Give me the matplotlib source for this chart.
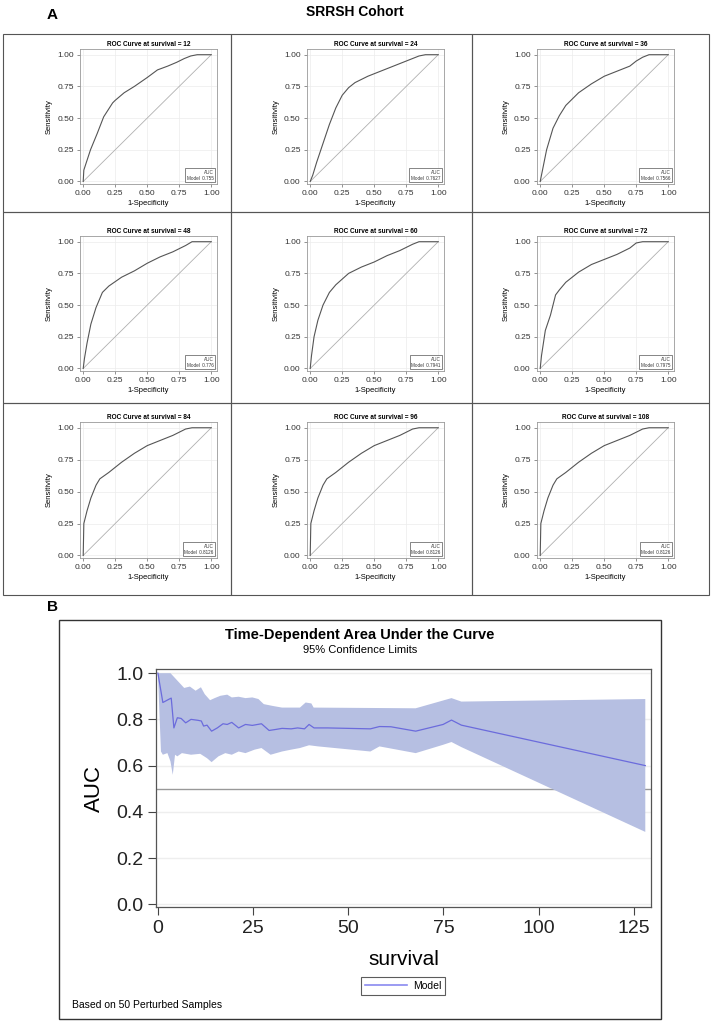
import matplotlib
matplotlib.use("Agg")
import matplotlib.pyplot as plt
from matplotlib.patches import Rectangle
from matplotlib.lines import Line2D
from matplotlib import font_manager
import numpy as np

plt.rcParams['font.family'] = ['Liberation Sans', 'DejaVu Sans']
_names = {f.name for f in font_manager.fontManager.ttflist}
NARROW = ['Liberation Sans Narrow', 'Liberation Sans', 'DejaVu Sans'] if 'Liberation Sans Narrow' in _names \
    else ['Liberation Sans', 'DejaVu Sans']

# ---------------- data ----------------
roc_times = [12, 24, 36, 48, 60, 72, 84, 96, 108]
roc_auc = ["0.755", "0.7627", "0.7566", "0.776", "0.7941", "0.7975", "0.8126", "0.8126", "0.8126"]

fpr_12 = [0, 0.005, 0.057, 0.11, 0.16, 0.23, 0.25, 0.32, 0.40, 0.50, 0.58, 0.66, 0.73, 0.79, 0.84, 0.89, 1.0]
tpr_12 = [0, 0.09, 0.25, 0.38, 0.51, 0.62, 0.64, 0.70, 0.75, 0.82, 0.88, 0.91, 0.94, 0.97, 0.99, 1.0, 1.0]
fpr_24 = [0, 0.02, 0.05, 0.10, 0.15, 0.20, 0.25, 0.30, 0.35, 0.45, 0.55, 0.65, 0.75, 0.85, 0.90, 1.0]
tpr_24 = [0, 0.05, 0.15, 0.30, 0.45, 0.58, 0.68, 0.74, 0.78, 0.83, 0.87, 0.91, 0.95, 0.99, 1.0, 1.0]
fpr_36 = [0, 0.02, 0.05, 0.10, 0.15, 0.20, 0.30, 0.40, 0.50, 0.60, 0.70, 0.75, 0.80, 0.85, 1.0]
tpr_36 = [0, 0.10, 0.25, 0.42, 0.52, 0.60, 0.70, 0.77, 0.83, 0.87, 0.91, 0.95, 0.98, 1.0, 1.0]
fpr_48 = [0, 0.01, 0.03, 0.06, 0.10, 0.15, 0.20, 0.30, 0.40, 0.50, 0.60, 0.70, 0.80, 0.85, 1.0]
tpr_48 = [0, 0.08, 0.20, 0.35, 0.48, 0.60, 0.65, 0.72, 0.77, 0.83, 0.88, 0.92, 0.97, 1.0, 1.0]
fpr_60 = [0, 0.01, 0.03, 0.06, 0.10, 0.15, 0.20, 0.30, 0.40, 0.50, 0.60, 0.70, 0.80, 0.85, 1.0]
tpr_60 = [0, 0.10, 0.25, 0.38, 0.50, 0.60, 0.66, 0.75, 0.80, 0.84, 0.89, 0.93, 0.98, 1.0, 1.0]
fpr_72 = [0, 0.01, 0.04, 0.08, 0.12, 0.15, 0.20, 0.30, 0.40, 0.50, 0.60, 0.70, 0.75, 0.80, 1.0]
tpr_72 = [0, 0.10, 0.30, 0.42, 0.58, 0.62, 0.68, 0.76, 0.82, 0.86, 0.90, 0.95, 0.99, 1.0, 1.0]
fpr_84 = [0, 0.005, 0.03, 0.06, 0.10, 0.13, 0.20, 0.30, 0.40, 0.50, 0.60, 0.70, 0.80, 0.85, 1.0]
tpr_84 = [0, 0.25, 0.35, 0.45, 0.55, 0.60, 0.65, 0.73, 0.80, 0.86, 0.90, 0.94, 0.99, 1.0, 1.0]
fpr_96 = fpr_84
tpr_96 = tpr_84
fpr_108 = fpr_84
tpr_108 = tpr_84

roc_fpr = [fpr_12, fpr_24, fpr_36, fpr_48, fpr_60, fpr_72, fpr_84, fpr_96, fpr_108]
roc_tpr = [tpr_12, tpr_24, tpr_36, tpr_48, tpr_60, tpr_72, tpr_84, tpr_96, tpr_108]

# Time-dependent AUC
auc_t = [0, 1.3, 3.0, 3.5, 4.2, 5.1, 6.1, 7.3, 8.7, 10.5, 11.4, 12.0, 12.9, 14.1, 15.6, 17.1, 18.2,
         19.4, 21.2, 23.0, 24.8, 27.2, 29.2, 30.8, 32.6, 35.0, 36.7, 38.5, 39.7, 41.0, 44.5, 55.8,
         58.2, 61.2, 67.7, 74.9, 77.1, 79.7, 128.0]
auc_v = [1.0, 0.873, 0.888, 0.892, 0.763, 0.807, 0.804, 0.785, 0.80, 0.796, 0.793, 0.771, 0.775,
         0.749, 0.763, 0.781, 0.778, 0.787, 0.763, 0.778, 0.774, 0.781, 0.752, 0.756, 0.761, 0.759,
         0.763, 0.759, 0.778, 0.763, 0.763, 0.759, 0.769, 0.768, 0.749, 0.778, 0.797, 0.775, 0.60]
upper_t = [0, 3.3, 5.1, 6.9, 8.4, 9.9, 11.3, 12.3, 13.7, 14.9, 16.4, 18.2, 19.4, 21.2, 23.0, 24.8,
           26.4, 27.8, 30.2, 32.6, 35.0, 37.3, 38.8, 40.3, 40.9, 67.7, 77.1, 79.7, 128.0]
upper_v = [1.0, 1.0, 0.968, 0.936, 0.942, 0.924, 0.939, 0.909, 0.883, 0.892, 0.902, 0.907, 0.895,
           0.898, 0.892, 0.895, 0.888, 0.866, 0.858, 0.851, 0.851, 0.851, 0.873, 0.869, 0.851, 0.848,
           0.892, 0.877, 0.888]
lower_t = [0, 0.8, 1.3, 2.5, 3.3, 3.9, 4.5, 5.1, 6.3, 8.7, 11.1, 12.9, 14.1, 15.9, 17.7, 19.4, 21.2,
           23.0, 25.4, 27.2, 29.6, 32.6, 35.0, 37.3, 39.7, 42.1, 55.8, 58.2, 67.7, 74.9, 77.1, 79.7, 128.0]
lower_v = [1.0, 0.661, 0.647, 0.654, 0.618, 0.56, 0.647, 0.64, 0.654, 0.647, 0.651, 0.632, 0.615,
           0.64, 0.654, 0.647, 0.661, 0.654, 0.669, 0.676, 0.647, 0.661, 0.669, 0.676, 0.688, 0.683,
           0.661, 0.683, 0.654, 0.69, 0.702, 0.68, 0.313]

# ---------------- figure ----------------
W, H = 711, 1022
fig = plt.figure(figsize=(W / 100, H / 100), dpi=100)


def fbox(x0, y0, x1, y1):
    """pixel box (top-left origin) -> figure fraction rect"""
    return [x0 / W, 1 - y1 / H, (x1 - x0) / W, (y1 - y0) / H]


def frame(x0, y0, x1, y1, color='#444444', lw=0.8):
    r = Rectangle((x0 / W, 1 - y1 / H), (x1 - x0) / W, (y1 - y0) / H,
                  transform=fig.transFigure, fill=False, ec=color, lw=lw)
    fig.patches.append(r)


fig.text(52 / W, 1 - 15 / H, "A", fontsize=11, fontweight='bold', ha='center', va='center')
fig.text(355 / W, 1 - 12 / H, "SRRSH Cohort", fontsize=10, fontweight='bold', ha='center', va='center')

row_boxes = [(34, 212), (212, 403), (403, 595)]
col_boxes = [(3, 231), (231, 472), (472, 709)]
row_axes = [(49, 184), (236, 371), (422, 558)]
col_axes = [(80, 217), (307, 444), (537, 674)]

for i in range(9):
    r, c = divmod(i, 3)
    frame(col_boxes[c][0], row_boxes[r][0], col_boxes[c][1], row_boxes[r][1], color='#555555', lw=0.8)
    ax = fig.add_axes(fbox(col_axes[c][0], row_axes[r][0], col_axes[c][1], row_axes[r][1]))
    ax.plot([0, 1], [0, 1], color='#b0b0b0', lw=0.6, zorder=2)
    ax.plot(roc_fpr[i], roc_tpr[i], color='#555555', lw=0.8, zorder=3)
    ax.set_xlim(-0.025, 1.045)
    ax.set_ylim(-0.02, 1.045)
    ticks = [0, 0.25, 0.5, 0.75, 1.0]
    ax.set_xticks(ticks)
    ax.set_yticks(ticks)
    ax.set_xticklabels(["0.00", "0.25", "0.50", "0.75", "1.00"])
    ax.set_yticklabels(["0.00", "0.25", "0.50", "0.75", "1.00"])
    ax.tick_params(labelsize=6, length=2.5, width=0.5, color='#666666', labelcolor='#333333', pad=2)
    ax.grid(True, color='#ececec', lw=0.5)
    ax.set_axisbelow(True)
    for s in ax.spines.values():
        s.set_color('#999999')
        s.set_linewidth(0.6)
    ax.set_title(f"ROC Curve at survival = {roc_times[i]}", fontsize=4.7, fontweight='bold', pad=2.5)
    ax.set_xlabel("1-Specificity", fontsize=5.5, labelpad=2)
    ax.set_ylabel("Sensitivity", fontsize=5.5, labelpad=3)
    ax.text(0.975, 0.025, f"AUC\nModel  {roc_auc[i]}", transform=ax.transAxes, ha='right', va='bottom',
            fontsize=3.3, multialignment='right', color='#333333',
            bbox=dict(boxstyle='square,pad=0.35', fc='white', ec='#555555', lw=0.5), zorder=5)

# ---------------- panel B ----------------
fig.text(52 / W, 1 - 607 / H, "B", fontsize=11, fontweight='bold', ha='center', va='center')
frame(59, 620, 661, 1019, color='#333333', lw=1.0)

axb = fig.add_axes(fbox(156, 669, 651, 907))
axb.fill(upper_t + lower_t[::-1], upper_v + lower_v[::-1], color='#b6bfe2', lw=0, zorder=2)
axb.plot(auc_t, auc_v, color='#6b6bdc', lw=0.9, zorder=3)
axb.axhline(0.5, color='#999999', lw=1.0, zorder=1)
axb.set_xlim(-0.5, 129.5)
axb.set_ylim(-0.012, 1.018)
axb.set_xticks([0, 25, 50, 75, 100, 125])
axb.set_yticks([0.0, 0.2, 0.4, 0.6, 0.8, 1.0])
axb.set_yticklabels(["0.0", "0.2", "0.4", "0.6", "0.8", "1.0"])
axb.tick_params(labelsize=14, length=6, width=0.8, color='#444444', labelcolor='#222222', pad=3)
for lab in axb.get_xticklabels() + axb.get_yticklabels():
    lab.set_family(NARROW)
axb.grid(True, axis='y', color='#eeeeee', lw=1.0)
axb.set_axisbelow(True)
for s in axb.spines.values():
    s.set_color('#555555')
    s.set_linewidth(0.9)
axb.set_xlabel("survival", fontsize=15, labelpad=10, family=NARROW)
axb.set_ylabel("AUC", fontsize=16, labelpad=8, family=NARROW)

fig.text(360 / W, 1 - 635 / H, "Time-Dependent Area Under the Curve", fontsize=10.5,
         fontweight='bold', ha='center', va='center')
fig.text(360 / W, 1 - 650 / H, "95% Confidence Limits", fontsize=8, ha='center', va='center')

handle = Line2D([], [], color='#8a8af0', lw=1.2)
leg = fig.legend([handle], ["Model"], loc='center', bbox_to_anchor=(403 / W, 1 - 986 / H),
                 prop={'size': 7.5, 'family': NARROW}, frameon=True, fancybox=False, edgecolor='#333333',
                 handlelength=4.0, borderpad=0.35, handletextpad=0.6)
leg.get_frame().set_linewidth(0.8)

fig.text(72 / W, 1 - 1005 / H, "Based on 50 Perturbed Samples", fontsize=7.5, ha='left', va='center',
         family=NARROW)

fig.savefig("out.png", dpi=100)
